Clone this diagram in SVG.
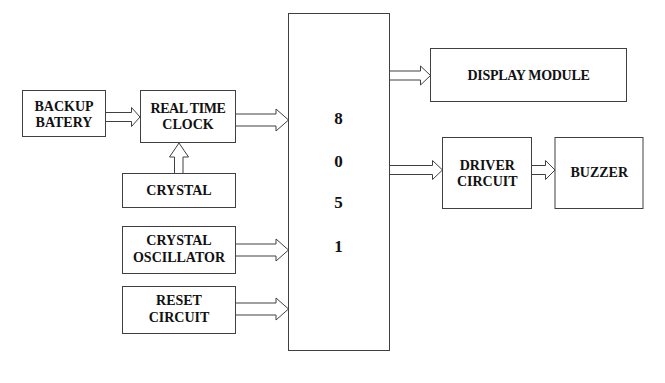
<svg xmlns="http://www.w3.org/2000/svg" width="665" height="383" viewBox="0 0 665 383">
<style>
.box{fill:#fff;stroke:#404040;stroke-width:1}
.arr{fill:#fff;stroke:#404040;stroke-width:1;stroke-linejoin:miter}
text{font-family:"Liberation Serif","Times New Roman",serif;font-weight:bold;font-size:14px;fill:#111;text-anchor:middle}
.big{font-size:17px}
</style>
<rect width="665" height="383" fill="#fff"/>
<g id="connectors">
<path class="arr" d="M105.5,112.5 H131.5 V107.5 L140,117 L131.5,126.5 V121.5 H105.5"/>
<path class="arr" d="M235.5,114 H276 V109 L288.5,120 L276,131 V126 H235.5"/>
<path class="arr" d="M174.5,173.5 V157 H169.5 L179,143 L188.5,157 H183 V173.5"/>
<path class="arr" d="M235.5,244 H276 V239 L288.5,250 L276,261 V256 H235.5"/>
<path class="arr" d="M235.5,303 H276 V298 L288.5,309 L276,320 V315 H235.5"/>
<path class="arr" d="M389.5,71 H420.5 V66 L430.5,75.5 L420.5,85 V80 H389.5"/>
<path class="arr" d="M389.5,165.5 H432.5 V160.5 L442.5,170 L432.5,179.5 V174.5 H389.5"/>
<path class="arr" d="M531.5,165.5 H545.5 V160.5 L555,170 L545.5,179.5 V174.5 H531.5"/>
</g>
<g id="backup">
<rect class="box" x="22.5" y="90.5" width="83" height="46"/>
<text x="64" y="110.7">BACKUP</text>
<text x="64" y="126.7">BATERY</text>
</g>
<g id="rtc">
<rect class="box" x="140.5" y="90.5" width="95" height="52"/>
<text x="188" y="113.3" letter-spacing="-0.4">REAL TIME</text>
<text x="188" y="129.3">CLOCK</text>
</g>
<g id="crystal">
<rect class="box" x="122.5" y="173.5" width="113" height="34"/>
<text x="179" y="195">CRYSTAL</text>
</g>
<g id="crystal-osc">
<rect class="box" x="122.5" y="226.5" width="113" height="47"/>
<text x="179" y="245">CRYSTAL</text>
<text x="179" y="261.7">OSCILLATOR</text>
</g>
<g id="reset">
<rect class="box" x="122.5" y="286.5" width="113" height="47"/>
<text x="179" y="305">RESET</text>
<text x="179" y="321.7">CIRCUIT</text>
</g>
<g id="mcu">
<rect class="box" x="288.5" y="13.5" width="101" height="337"/>
<text class="big" x="338.5" y="124">8</text>
<text class="big" x="338.5" y="167.3">0</text>
<text class="big" x="338.5" y="208.3">5</text>
<text class="big" x="338.5" y="251.7">1</text>
</g>
<g id="display">
<rect class="box" x="430.5" y="48.5" width="196" height="53"/>
<text x="528.5" y="80" letter-spacing="-0.3">DISPLAY MODULE</text>
</g>
<g id="driver">
<rect class="box" x="442.5" y="137.5" width="89" height="71"/>
<text x="487.3" y="170">DRIVER</text>
<text x="487.3" y="186">CIRCUIT</text>
</g>
<g id="buzzer">
<rect class="box" x="555" y="137.5" width="88" height="71"/>
<text x="599.3" y="177.3">BUZZER</text>
</g>
</svg>
